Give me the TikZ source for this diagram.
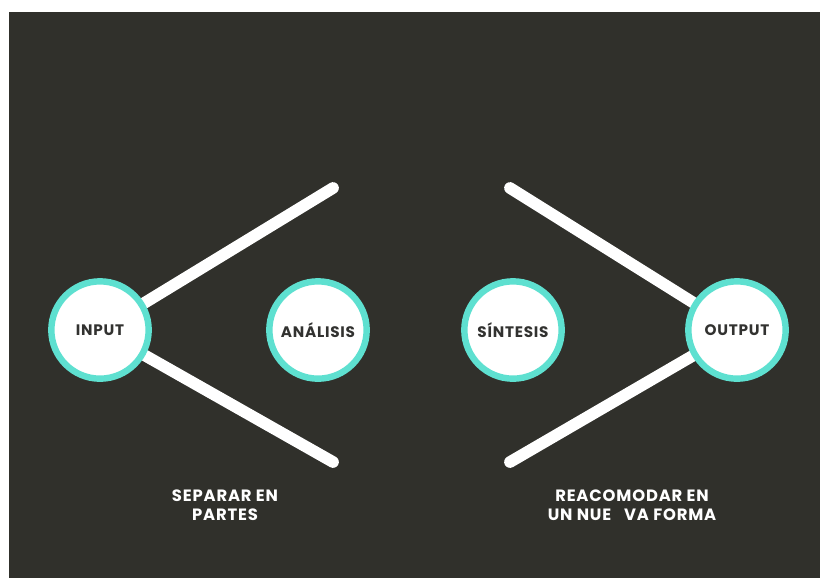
\documentclass[tikz,border=0pt]{standalone}
\usepackage{fontspec}
\setmainfont{Poppins}
\definecolor{fondo}{RGB}{48,48,43}
\definecolor{turquesa}{RGB}{94,224,208}
\definecolor{tinta}{RGB}{50,50,48}
\tikzset{
  etapa/.style={circle, draw=turquesa, line width=5.5pt, fill=white,
    minimum size=2.92cm, inner sep=0pt, text=tinta,
    font=\fontsize{13}{15}\selectfont\bfseries\addfontfeatures{LetterSpace=5}},
  rama/.style={white, line width=10pt, line cap=round},
  nota/.style={white, align=center,
    font=\fontsize{14}{16.5}\selectfont\bfseries\addfontfeatures{LetterSpace=5}}
}
\begin{document}
\begin{tikzpicture}[x=0.03cm,y=-0.03cm]
    \useasboundingbox (0,0) rectangle (820,578);
    \fill[white] (0,0) rectangle (820,578);
    \fill[fondo] (9,12) rectangle (820,578);
    % puntas de las ramas
    \coordinate (arribaI) at (333,188);
    \coordinate (abajoI) at (333,462);
    \coordinate (arribaD) at (510,188);
    \coordinate (abajoD) at (510,462);
    \coordinate (cinput) at (100,330);
    \coordinate (coutput) at (737,330);
    \draw[rama] (cinput) -- (arribaI);
    \draw[rama] (cinput) -- (abajoI);
    \draw[rama] (coutput) -- (arribaD);
    \draw[rama] (coutput) -- (abajoD);
    % circulos
    \node[etapa] (input) at (cinput) {INPUT};
    \node[etapa] (analisis) at (318,330) {ANÁLISIS};
    \node[etapa] (sintesis) at (513,330) {SÍNTESIS};
    \node[etapa] (output) at (coutput) {OUTPUT};
    % textos
    \node[nota] (separar) at (225,505) {SEPARAR EN\\PARTES};
    \node[nota] (reacomodar) at (632,505) {REACOMODAR EN\\UN NUE\ \ \ VA FORMA};
\end{tikzpicture}
\end{document}
